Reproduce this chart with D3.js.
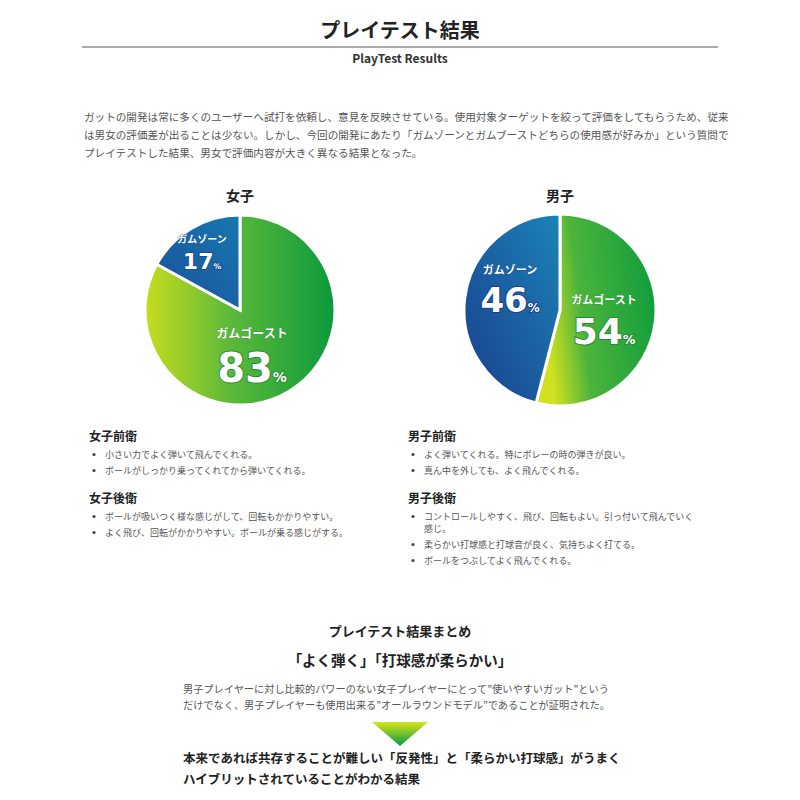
<!DOCTYPE html><html><head><meta charset="utf-8"><script src="https://cdn.jsdelivr.net/npm/d3@7"></script>
<style>body{margin:0;background:#fff;font-family:"Noto Sans CJK JP",sans-serif}</style></head><body><svg id="c" width="800" height="800"></svg>
<script>
const groups=["女子","男子"];
const categories=["ガムゴースト","ガムゾーン"];
const femaleValues=[83,17];
const maleValues=[54,46];
const introLines=["ガットの開発は常に多くのユーザーへ試打を依頼し、意見を反映させている。使用対象ターゲットを絞って評価をしてもらうため、従来","は男女の評価差が出ることは少ない。しかし、今回の開発にあたり「ガムゾーンとガムブーストどちらの使用感が好みか」という質問で","プレイテストした結果、男女で評価内容が大きく異なる結果となった。"];
const notes=[
 {title:"女子前衛",items:[["小さい力でよく弾いて飛んでくれる。"],["ボールがしっかり乗ってくれてから弾いてくれる。"]]},
 {title:"女子後衛",items:[["ボールが吸いつく様な感じがして、回転もかかりやすい。"],["よく飛び、回転がかかりやすい。ボールが乗る感じがする。"]]},
 {title:"男子前衛",items:[["よく弾いてくれる。特にボレーの時の弾きが良い。"],["真ん中を外しても、よく飛んでくれる。"]]},
 {title:"男子後衛",items:[["コントロールしやすく、飛び、回転もよい。引っ付いて飛んでいく","感じ。"],["柔らかい打球感と打球音が良く、気持ちよく打てる。"],["ボールをつぶしてよく飛んでくれる。"]]}];
const svg=d3.select("#c");
const defs=svg.append("defs");
function lg(id,stops,x1,y1,x2,y2){const g=defs.append("linearGradient").attr("id",id).attr("x1",x1).attr("y1",y1).attr("x2",x2).attr("y2",y2);stops.forEach(s=>g.append("stop").attr("offset",s[0]).attr("stop-color",s[1]));}
lg("gF",[[0,"#c8dc1e"],[0.45,"#5cb93a"],[1,"#0a9a3c"]],"0","0","1","0");
lg("gM",[[0,"#d2e020"],[0.3,"#4cb43c"],[1,"#0a9a3c"]],"0","0.2","1","0");
lg("bF",[[0,"#1c4f9a"],[1,"#1678b0"]],"0","1","1","0");
lg("bM",[[0,"#1b3f8a"],[1,"#1a83b8"]],"0","1","1","0");
lg("arr",[[0,"#d7e31a"],[1,"#089a45"]],"0","0","0","1");
const T=(x,y,t,o={})=>svg.append("text").attr("x",x).attr("y",y).text(t).attr("font-size",o.s||12).attr("fill",o.f||"#333").attr("font-weight",o.w||"normal").attr("text-anchor",o.a||"start");
T(400,38,"プレイテスト結果",{s:20,w:"bold",a:"middle",f:"#222"});
svg.append("line").attr("x1",82).attr("x2",718).attr("y1",47).attr("y2",47).attr("stroke","#555");
T(400,63,"PlayTest Results",{s:12,a:"middle",f:"#333",w:"bold"});
introLines.forEach((l,i)=>T(84,121+i*18,l,{s:10.6,f:"#555"}));
const pie=d3.pie().sort(null).value(d=>d);
const arc=d3.arc().innerRadius(0);
function drawPie(cx,cy,r,vals,title,green,blue,male){
 const g=svg.append("g").attr("transform",`translate(${cx},${cy})`);
 T(cx,201,title,{s:14,w:"bold",a:"middle",f:"#222"});
 let arcs;
 if(male){arcs=pie(vals);}else{const p=pie.startAngle(-2*Math.PI*vals[1]/100).endAngle(2*Math.PI-2*Math.PI*vals[1]/100);arcs=pie(vals);arcs=[{startAngle:0,endAngle:2*Math.PI*vals[0]/100},{startAngle:-2*Math.PI*vals[1]/100,endAngle:0}];pie.startAngle(0).endAngle(2*Math.PI);}
 arcs.forEach((a,i)=>g.append("path").attr("d",arc.outerRadius(r)(a)).attr("fill",`url(#${i==0?green:blue})`).attr("stroke","#fff").attr("stroke-width",3));
 return g;
}
const gf=drawPie(240,310,95,femaleValues,groups[0],"gF","bF",false);
const gm=drawPie(560,310,96,maleValues,groups[1],"gM","bM",true);
function lab(g,x,y,name,v,s1,s2,col){
 const t=g.append("text").attr("x",x).attr("y",y).attr("text-anchor","middle").attr("fill","#fff").attr("font-size",s1).attr("font-weight","bold").attr("stroke",col).attr("stroke-width",0.6).attr("paint-order","stroke").text(name);
 const n=g.append("text").attr("x",x).attr("y",y+s2+4).attr("text-anchor","middle").attr("fill","#fff").attr("font-weight","bold").attr("font-family","DejaVu Sans").attr("stroke",col).attr("stroke-width",2).attr("paint-order","stroke");
 n.append("tspan").attr("font-size",s2).text(v);
 n.append("tspan").attr("font-size",s2*0.35).text("%");
}
lab(gf,-38,-67,categories[1],femaleValues[1],10,22,"#1b4f8a");
lab(gf,12,28,categories[0],femaleValues[0],12,40,"#2a8a35");
lab(gm,-50,-36,categories[1],maleValues[1],11,34,"#1b3f8a");
lab(gm,44,-6,categories[0],maleValues[0],11,36,"#2a8a35");
function noteBlock(x,y,n){T(x,y,n.title,{s:12,w:"bold",f:"#222"});let yy=y+17;n.items.forEach(it=>{svg.append("circle").attr("cx",x+5).attr("cy",yy-3.5).attr("r",1.6).attr("fill","#444");it.forEach(l=>{T(x+16,yy,l,{s:9,f:"#555"});yy+=12});yy+=4;});}
noteBlock(89,441,notes[0]);noteBlock(89,503,notes[1]);noteBlock(408,441,notes[2]);noteBlock(408,503,notes[3]);
T(400,636,"プレイテスト結果まとめ",{s:13,w:"bold",a:"middle",f:"#222"});
T(400,666,"「よく弾く」「打球感が柔らかい」",{s:14.5,a:"middle",f:"#222",w:"bold"});
T(183,693,"男子プレイヤーに対し比較的パワーのない女子プレイヤーにとって”使いやすいガット”という",{s:10.2,f:"#555"});
T(183,709,"だけでなく、男子プレイヤーも使用出来る”オールラウンドモデル”であることが証明された。",{s:10.2,f:"#555"});
svg.append("path").attr("d","M372,722L428,722L400,746Z").attr("fill","url(#arr)");
T(183,763,"本来であれば共存することが難しい「反発性」と「柔らかい打球感」がうまく",{s:12.5,w:"bold",f:"#222"});
T(183,784,"ハイブリットされていることがわかる結果",{s:12.5,w:"bold",f:"#222"});
</script></body></html>
